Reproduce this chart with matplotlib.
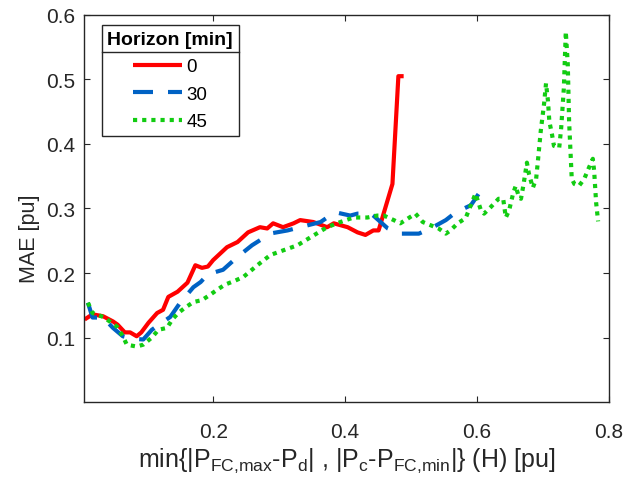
import matplotlib
matplotlib.use("Agg")
import matplotlib.pyplot as plt
from matplotlib.lines import Line2D

plt.rcParams['font.family'] = ['Liberation Sans', 'DejaVu Sans']
plt.rcParams['mathtext.fontset'] = 'custom'
plt.rcParams['mathtext.rm'] = 'Liberation Sans'

# MAE versus min{|P_FC,max - P_d|, |P_c - P_FC,min|} for each horizon
horizons = ['0', '30', '45']

red_x = [0.005, 0.017, 0.033, 0.048, 0.055, 0.066, 0.074, 0.084, 0.091, 0.102,
         0.115, 0.124, 0.132, 0.146, 0.161, 0.173, 0.183, 0.192, 0.200, 0.221,
         0.237, 0.253, 0.271, 0.282, 0.291, 0.306, 0.322, 0.332, 0.352, 0.373,
         0.383, 0.404, 0.419, 0.431, 0.443, 0.451, 0.472, 0.481, 0.489]
red_y = [0.128, 0.136, 0.133, 0.125, 0.120, 0.108, 0.108, 0.102, 0.108, 0.123,
         0.138, 0.143, 0.163, 0.171, 0.185, 0.212, 0.208, 0.210, 0.220, 0.240,
         0.248, 0.263, 0.271, 0.269, 0.277, 0.271, 0.277, 0.282, 0.279, 0.271,
         0.277, 0.271, 0.263, 0.259, 0.266, 0.266, 0.338, 0.505, 0.505]

blue_x = [0.010, 0.017, 0.033, 0.048, 0.063, 0.079, 0.094, 0.107, 0.135, 0.150,
          0.170, 0.181, 0.192, 0.215, 0.237, 0.259, 0.276, 0.291, 0.313, 0.332,
          0.363, 0.373, 0.386, 0.408, 0.419, 0.439, 0.443, 0.465, 0.484, 0.512,
          0.530, 0.553, 0.568, 0.591, 0.603]
blue_y = [0.154, 0.131, 0.131, 0.115, 0.102, 0.098, 0.097, 0.112, 0.132, 0.154,
          0.178, 0.186, 0.198, 0.205, 0.225, 0.243, 0.254, 0.262, 0.266, 0.271,
          0.279, 0.286, 0.294, 0.289, 0.292, 0.292, 0.289, 0.269, 0.261, 0.261,
          0.269, 0.282, 0.294, 0.305, 0.323]

green_x = [0.010, 0.017, 0.033, 0.043, 0.054, 0.063, 0.069, 0.084, 0.094, 0.107,
           0.117, 0.130, 0.138, 0.147, 0.157, 0.170, 0.183, 0.195, 0.206, 0.218,
           0.233, 0.246, 0.267, 0.287, 0.306, 0.328, 0.352, 0.373, 0.393, 0.413,
           0.434, 0.449, 0.459, 0.474, 0.484, 0.507, 0.518, 0.530, 0.542, 0.553,
           0.560, 0.571, 0.583, 0.598, 0.606, 0.611, 0.621, 0.633, 0.640, 0.644,
           0.649, 0.655, 0.659, 0.664, 0.667, 0.671, 0.676, 0.679, 0.685, 0.690,
           0.693, 0.697, 0.702, 0.705, 0.708, 0.710, 0.714, 0.717, 0.725, 0.728,
           0.732, 0.735, 0.738, 0.740, 0.744, 0.748, 0.755, 0.763, 0.770, 0.776,
           0.778, 0.781, 0.784]
green_y = [0.154, 0.138, 0.132, 0.125, 0.117, 0.102, 0.089, 0.086, 0.089, 0.100,
           0.112, 0.115, 0.128, 0.138, 0.146, 0.155, 0.158, 0.166, 0.174, 0.182,
           0.188, 0.194, 0.212, 0.228, 0.235, 0.243, 0.258, 0.271, 0.279, 0.286,
           0.286, 0.289, 0.289, 0.282, 0.277, 0.292, 0.279, 0.274, 0.269, 0.261,
           0.266, 0.277, 0.285, 0.323, 0.298, 0.292, 0.302, 0.315, 0.315, 0.286,
           0.297, 0.323, 0.335, 0.317, 0.315, 0.338, 0.371, 0.354, 0.332, 0.346,
           0.377, 0.420, 0.462, 0.494, 0.466, 0.435, 0.415, 0.397, 0.394, 0.425,
           0.486, 0.574, 0.523, 0.435, 0.346, 0.338, 0.335, 0.346, 0.363, 0.377,
           0.358, 0.309, 0.280]

x_ticks = [0.2, 0.4, 0.6, 0.8]
y_ticks = [0.1, 0.2, 0.3, 0.4, 0.5, 0.6]

fig = plt.figure(figsize=(6.36, 4.81), dpi=100)
ax = fig.add_axes([0.132, 0.162, 0.825, 0.805])

lw = 3.0
ax.plot(red_x, red_y, color='#ff0000', lw=lw, solid_capstyle='butt',
        label=horizons[0])
ax.plot(blue_x, blue_y, color='#0062c4', lw=lw, linestyle=(0, (4.8, 3.6)),
        label=horizons[1])
ax.plot(green_x, green_y, color='#12cc12', lw=lw, linestyle=(0, (1.0, 1.2)),
        label=horizons[2])

ax.set_xlim(0.004, 0.8)
ax.set_ylim(0.0, 0.6)
ax.set_xticks(x_ticks)
ax.set_xticklabels([f'{v:.1f}' for v in x_ticks])
ax.set_yticks(y_ticks)
ax.set_yticklabels([f'{v:.1f}' for v in y_ticks])

text_col = '#262626'
for s in ax.spines.values():
    s.set_color(text_col)
    s.set_linewidth(1.0)
ax.tick_params(direction='in', length=4, width=0.8, color=text_col,
               top=True, right=True, labelsize=15, labelcolor=text_col)
ax.tick_params(axis='x', pad=14)
ax.tick_params(axis='y', pad=6.5)

ax.set_ylabel('MAE [pu]', fontsize=15.5, color=text_col)
ax.yaxis.set_label_coords(-0.084, 0.424)
ax.set_xlabel(r'min{|P$_{\mathregular{FC{,}max}}$-P$_{\mathregular{d}}$| , '
              r'|P$_{\mathregular{c}}$-P$_{\mathregular{FC{,}min}}$|} (H) [pu]',
              fontsize=18, color=text_col, labelpad=4)

leg = ax.legend(loc='upper left', bbox_to_anchor=(0.034, 0.973),
                title='Horizon [min]', fontsize=13.5, frameon=True,
                fancybox=False, framealpha=1, edgecolor=text_col,
                handlelength=2.6, handletextpad=0.25, labelspacing=0.55,
                borderpad=0.3, borderaxespad=0.0)
leg.get_title().set_fontweight('bold')
leg.get_title().set_fontsize(14)
leg.get_frame().set_linewidth(1.0)

# Rule between the legend title and its entries
fig.canvas.draw()
renderer = fig.canvas.get_renderer()
fb = leg.get_frame().get_window_extent(renderer)
tb = leg.get_title().get_window_extent(renderer)
y_sep = tb.y0 - 4
inv = fig.transFigure.inverted()
(x0f, yf), (x1f, _) = inv.transform([(fb.x0, y_sep), (fb.x1, y_sep)])
fig.add_artist(Line2D([x0f, x1f], [yf, yf], color=text_col, lw=1.0,
                      transform=fig.transFigure, zorder=10))

fig.savefig('out.png', dpi=100)
